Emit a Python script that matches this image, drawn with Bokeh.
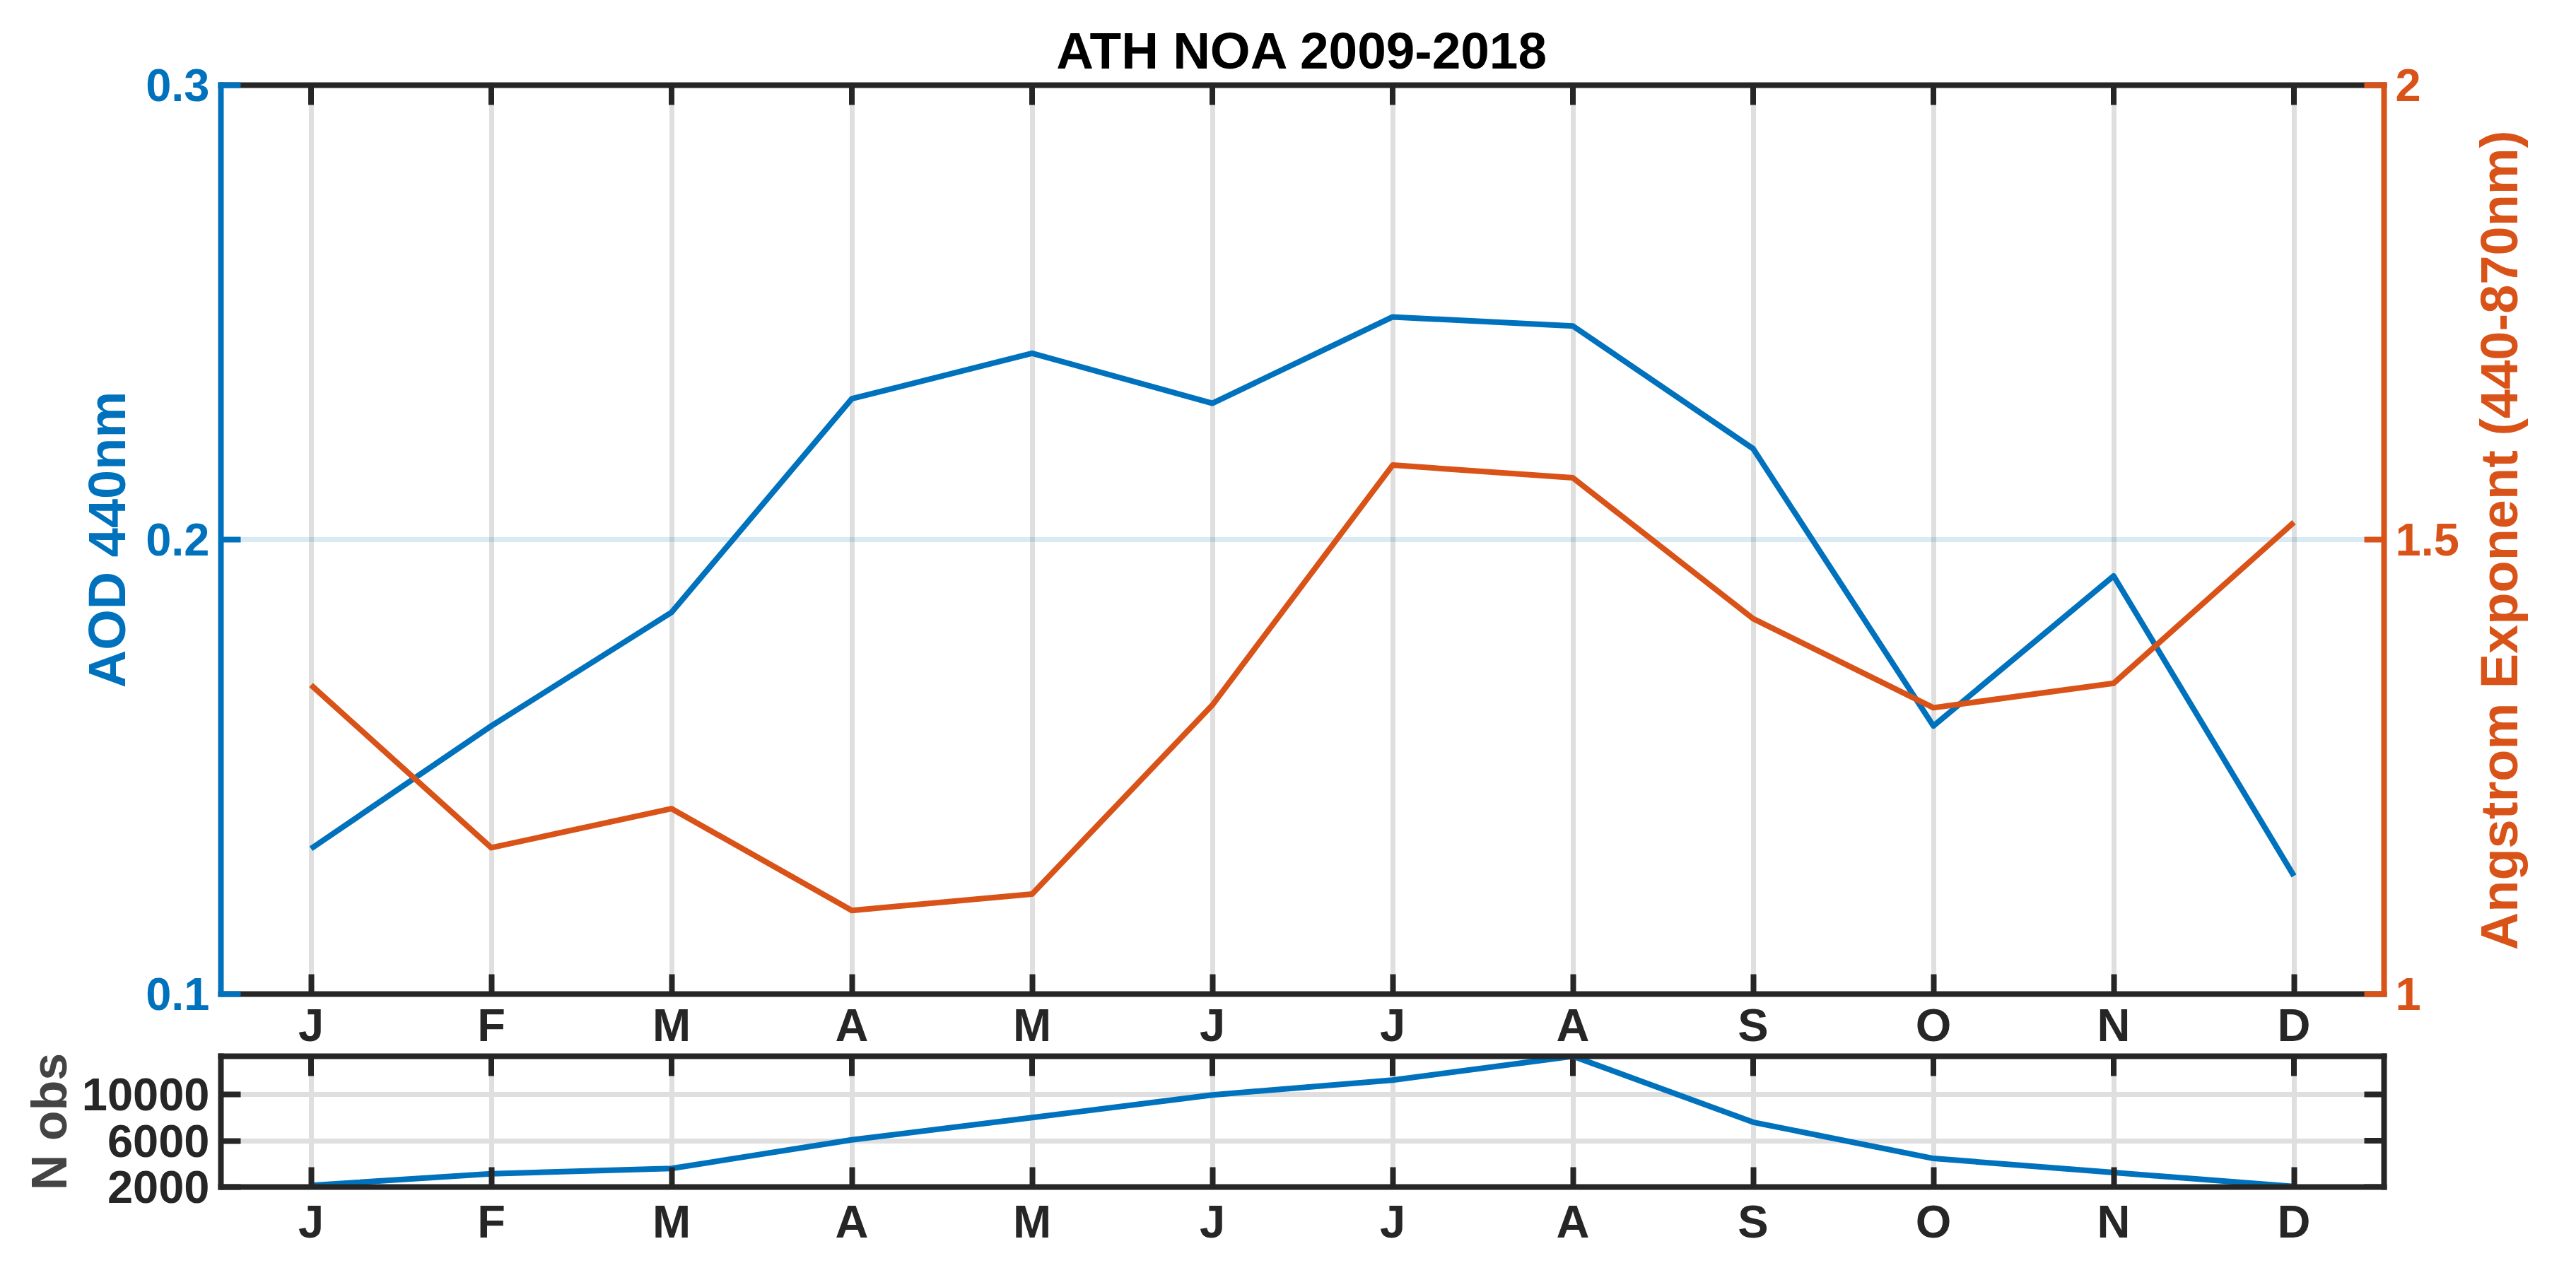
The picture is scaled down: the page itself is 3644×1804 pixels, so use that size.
import math
from bokeh.plotting import figure
from bokeh.models import Range1d, LinearAxis, FixedTicker, Grid
from bokeh.layouts import column, row
from bokeh.embed import file_html
from bokeh.resources import INLINE

# ---------------- data ----------------
months = list(range(1, 13))
month_labels = ["J", "F", "M", "A", "M", "J", "J", "A", "S", "O", "N", "D"]
aod_440 = [0.132, 0.159, 0.184, 0.231, 0.241, 0.230, 0.249, 0.247, 0.220, 0.159, 0.192, 0.126]
angstrom = [1.340, 1.161, 1.204, 1.092, 1.110, 1.318, 1.582, 1.568, 1.413, 1.315, 1.342, 1.519]
n_obs = [2140, 3150, 3600, 6080, 8000, 9960, 11240, 13300, 7600, 4470, 3250, 2050]
aod_ticks = [0.1, 0.2, 0.3]
ae_ticks = [1, 1.5, 2]
nobs_ticks = [2000, 6000, 10000]
title_text = "ATH NOA 2009-2018"
aod_label = "AOD 440nm"
ae_label = "Angstrom Exponent (440-870nm)"
nobs_label = "N obs"

# ---------------- style ----------------
BLUE = "#0072BD"
ORANGE = "#D95319"
DARK = "#262626"
GRID = "#dfdfdf"
FONT = "Liberation Sans"
TICK_FS = "65px"
LABEL_FS = "74px"
LW = 8
TICK_LEN = 28
X_RANGE = (0.5, 12.5)
NOBS_RANGE = (2000, 13300)
LEFT_W = 3490        # width of the two stacked panels
TOTAL_W = 3628

month_over = {m: l for m, l in zip(months, month_labels)}


def style_axis(ax, color, label_color=None):
    ax.axis_line_color = color
    ax.axis_line_width = LW
    ax.axis_line_cap = "square"
    ax.major_tick_line_color = color
    ax.major_tick_line_width = LW
    ax.major_tick_in = TICK_LEN
    ax.major_tick_out = 0
    ax.minor_tick_line_color = None
    ax.major_label_text_font = FONT
    ax.major_label_text_font_style = "bold"
    ax.major_label_text_color = label_color or color
    ax.major_label_text_font_size = TICK_FS
    ax.axis_label_text_font = FONT
    ax.axis_label_text_font_style = "bold"
    ax.axis_label_text_font_size = LABEL_FS


def line_only_axis(color, **kw):
    ax = LinearAxis(ticker=FixedTicker(ticks=[]), **kw)
    ax.axis_line_color = color
    ax.axis_line_width = LW
    ax.axis_line_cap = "square"
    ax.major_tick_line_color = None
    ax.minor_tick_line_color = None
    ax.major_label_standoff = 0
    return ax


def drop_default_grids(fig):
    fig.center = [c for c in fig.center if not isinstance(c, Grid)]


# ---------------- main figure ----------------
p = figure(width=LEFT_W, height=1489, output_backend="svg", toolbar_location=None,
           x_range=Range1d(*X_RANGE), y_range=Range1d(aod_ticks[0], aod_ticks[-1]),
           x_axis_location=None, y_axis_location=None,
           min_border_left=312, min_border_right=LEFT_W - 312 - 3060,
           min_border_top=120, min_border_bottom=81)
drop_default_grids(p)
p.outline_line_color = None
p.extra_y_ranges = {"ae": Range1d(ae_ticks[0], ae_ticks[-1])}

xb = LinearAxis(ticker=FixedTicker(ticks=months), major_label_overrides=month_over)
style_axis(xb, DARK)
xb.major_label_standoff = 7
p.add_layout(xb, "below")

p.add_layout(line_only_axis(DARK), "above")

yl = LinearAxis(ticker=FixedTicker(ticks=aod_ticks),
                major_label_overrides={t: str(t) for t in aod_ticks},
                axis_label=aod_label)
style_axis(yl, BLUE)
yl.axis_label_text_color = BLUE
yl.major_label_standoff = 16
yl.axis_label_standoff = 10
p.add_layout(yl, "left")

yr = LinearAxis(y_range_name="ae", ticker=FixedTicker(ticks=ae_ticks),
                major_label_overrides={1: "1", 1.5: "1.5", 2: "2"})
style_axis(yr, ORANGE)
yr.major_label_standoff = 16
p.add_layout(yr, "right")

p.add_layout(Grid(dimension=0, ticker=FixedTicker(ticks=months),
                  grid_line_color=GRID, grid_line_width=7))
p.add_layout(Grid(dimension=1, ticker=FixedTicker(ticks=[aod_ticks[1]]),
                  grid_line_color=BLUE, grid_line_alpha=0.15, grid_line_width=7))

# inward tick marks on the top edge (clipped to the frame)
p.scatter(x=months, y=[aod_ticks[-1]] * len(months), marker="dash",
          size=2 * TICK_LEN, angle=math.pi / 2, line_color=DARK, line_width=LW,
          fill_color=None)

p.line(months, aod_440, line_color=BLUE, line_width=LW, line_join="round")
p.line(months, angstrom, y_range_name="ae", line_color=ORANGE, line_width=LW,
       line_join="round")

p.title.text = title_text
p.title.align = "center"
p.title.text_font = FONT
p.title.text_font_style = "bold"
p.title.text_font_size = "73px"
p.title.text_color = "black"
p.title.standoff = 18

# ---------------- right-hand label strip (reads bottom-to-top) ----------------
r = figure(width=TOTAL_W - LEFT_W, height=1489, output_backend="svg",
           toolbar_location=None, x_range=Range1d(0, 1),
           y_range=Range1d(ae_ticks[0], ae_ticks[-1]),
           x_axis_location=None, y_axis_location=None,
           min_border_left=0, min_border_right=0,
           min_border_top=120, min_border_bottom=81)
drop_default_grids(r)
r.outline_line_color = None
ra = line_only_axis(None, axis_label=ae_label)
ra.axis_label_text_font = FONT
ra.axis_label_text_font_style = "bold"
ra.axis_label_text_font_size = LABEL_FS
ra.axis_label_text_color = ORANGE
ra.axis_label_standoff = 2
r.add_layout(ra, "left")

# ---------------- N obs figure ----------------
q = figure(width=LEFT_W, height=299, output_backend="svg", toolbar_location=None,
           x_range=Range1d(*X_RANGE), y_range=Range1d(*NOBS_RANGE),
           x_axis_location=None, y_axis_location=None,
           min_border_left=312, min_border_right=LEFT_W - 312 - 3060,
           min_border_top=5, min_border_bottom=109)
drop_default_grids(q)
q.outline_line_color = None

qxb = LinearAxis(ticker=FixedTicker(ticks=months), major_label_overrides=month_over)
style_axis(qxb, DARK)
qxb.major_label_standoff = 12
q.add_layout(qxb, "below")

q.add_layout(line_only_axis(DARK), "above")

qyl = LinearAxis(ticker=FixedTicker(ticks=nobs_ticks),
                 major_label_overrides={t: str(t) for t in nobs_ticks},
                 axis_label=nobs_label)
style_axis(qyl, DARK)
qyl.axis_label_text_font_size = "70px"
qyl.major_label_standoff = 16
qyl.axis_label_standoff = 4
q.add_layout(qyl, "left")

q.add_layout(line_only_axis(DARK), "right")

q.add_layout(Grid(dimension=0, ticker=FixedTicker(ticks=months),
                  grid_line_color=GRID, grid_line_width=7))
q.add_layout(Grid(dimension=1, ticker=FixedTicker(ticks=nobs_ticks),
                  grid_line_color=GRID, grid_line_width=7))

q.scatter(x=months, y=[NOBS_RANGE[1]] * len(months), marker="dash",
          size=2 * TICK_LEN, angle=math.pi / 2, line_color=DARK, line_width=LW,
          fill_color=None)
q.scatter(x=[X_RANGE[1]] * len(nobs_ticks), y=nobs_ticks, marker="dash",
          size=2 * TICK_LEN, angle=0, line_color=DARK, line_width=LW,
          fill_color=None)

q.line(months, n_obs, line_color=BLUE, line_width=LW, line_join="round")

layout = row(column(p, q, spacing=0), r, spacing=0)
open("out.html", "w").write(file_html(layout, INLINE))
